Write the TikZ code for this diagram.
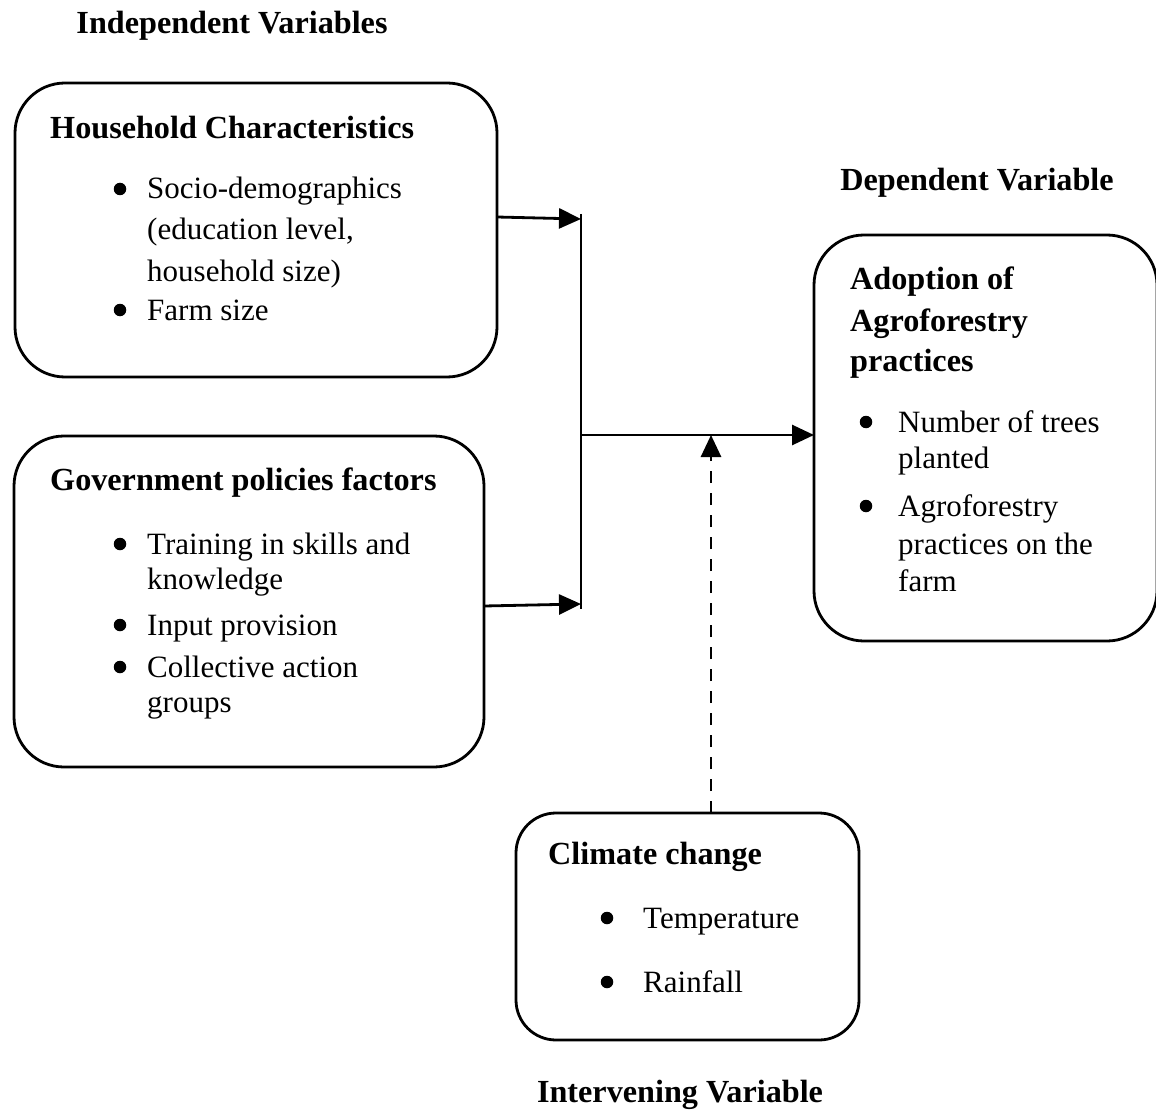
\documentclass[tikz,border=0pt]{standalone}
\usepackage{fontspec}
\setmainfont{Liberation Serif}
\usetikzlibrary{arrows.meta}
\begin{document}
\begin{tikzpicture}[x=1pt,y=-1pt,
  box/.style={draw, line width=2.8pt, rounded corners=50pt, inner sep=0pt, outer sep=0pt},
  txt/.style={anchor=base west, inner sep=0pt, font=\fontsize{31}{37}\selectfont},
  hd/.style={anchor=base west, inner sep=0pt, font=\fontsize{32.2}{37}\selectfont\bfseries},
  ttl/.style={anchor=base, inner sep=0pt, font=\fontsize{32.2}{37}\selectfont\bfseries},
  bul/.style={circle, fill, inner sep=0pt, minimum size=12.5pt},
  conn/.style={line width=2.8pt},
  arr/.style={line width=2.8pt, -{Triangle[length=22pt,width=20pt]}}
]
\useasboundingbox (0,0) rectangle (1156,1115);

% titles
\node[ttl] (tindep) at (232,34) {Independent Variables};
\node[ttl] (tdep) at (977,191) {Dependent Variable};
\node[ttl] (tint) at (680,1102) {Intervening Variable};

% boxes
\node[box, minimum width=482pt, minimum height=294pt] (hh) at (256,230) {};
\node[box, minimum width=470pt, minimum height=331pt] (gov) at (249,601.5) {};
\node[box, minimum width=343pt, minimum height=406pt] (adopt) at (985.5,438) {};
\node[box, rounded corners=40pt, minimum width=343pt, minimum height=227pt] (clim) at (687.5,926.5) {};

% household text
\node[hd] (hhh) at (50,139) {Household Characteristics};
\node[bul] (hb1) at (120,189) {};
\node[txt] (hl1) at (147,199) {Socio-demographics};
\node[txt] (hl2) at (147,240) {(education level,};
\node[txt] (hl3) at (147,281) {household size)};
\node[bul] (hb2) at (120,310) {};
\node[txt] (hl4) at (147,320) {Farm size};

% government text
\node[hd] (gh) at (50,490) {Government policies factors};
\node[bul] (gb1) at (120,544) {};
\node[txt] (gl1) at (147,554) {Training in skills and};
\node[txt] (gl2) at (147,589) {knowledge};
\node[bul] (gb2) at (120,625) {};
\node[txt] (gl3) at (147,635) {Input provision};
\node[bul] (gb3) at (120,667) {};
\node[txt] (gl4) at (147,677) {Collective action};
\node[txt] (gl5) at (147,712) {groups};

% adoption text
\node[hd] (ah1) at (850,290) {Adoption of};
\node[hd] (ah2) at (850,331) {Agroforestry};
\node[hd] (ah3) at (850,371) {practices};
\node[bul] (ab1) at (866,422) {};
\node[txt] (al1) at (898,432) {Number of trees};
\node[txt] (al2) at (898,468) {planted};
\node[bul] (ab2) at (866,506) {};
\node[txt] (al3) at (898,516) {Agroforestry};
\node[txt] (al4) at (898,554) {practices on the};
\node[txt] (al5) at (898,591) {farm};

% climate text
\node[hd] (ch) at (548,864) {Climate change};
\node[bul] (cb1) at (607,918) {};
\node[txt] (cl1) at (643,928) {Temperature};
\node[bul] (cb2) at (607,982) {};
\node[txt] (cl2) at (643,992) {Rainfall};

% connectors
\coordinate (jtop) at (581,214);
\coordinate (jbot) at (581,609);
\coordinate (j1) at (581,219);
\coordinate (j2) at (581,604);
\coordinate (jmid) at (581,435);
\coordinate (dtip) at (711,435);
\draw[conn] (jtop) -- (jbot);
\draw[arr] (hh.east |- 0,217) -- (j1);
\draw[arr] (gov.east |- 0,606) -- (j2);
\draw[arr] (jmid) -- (adopt.west |- jmid);
\draw[arr, dash pattern=on 12pt off 10pt] (clim.north -| dtip) -- (dtip);
\end{tikzpicture}
\end{document}
